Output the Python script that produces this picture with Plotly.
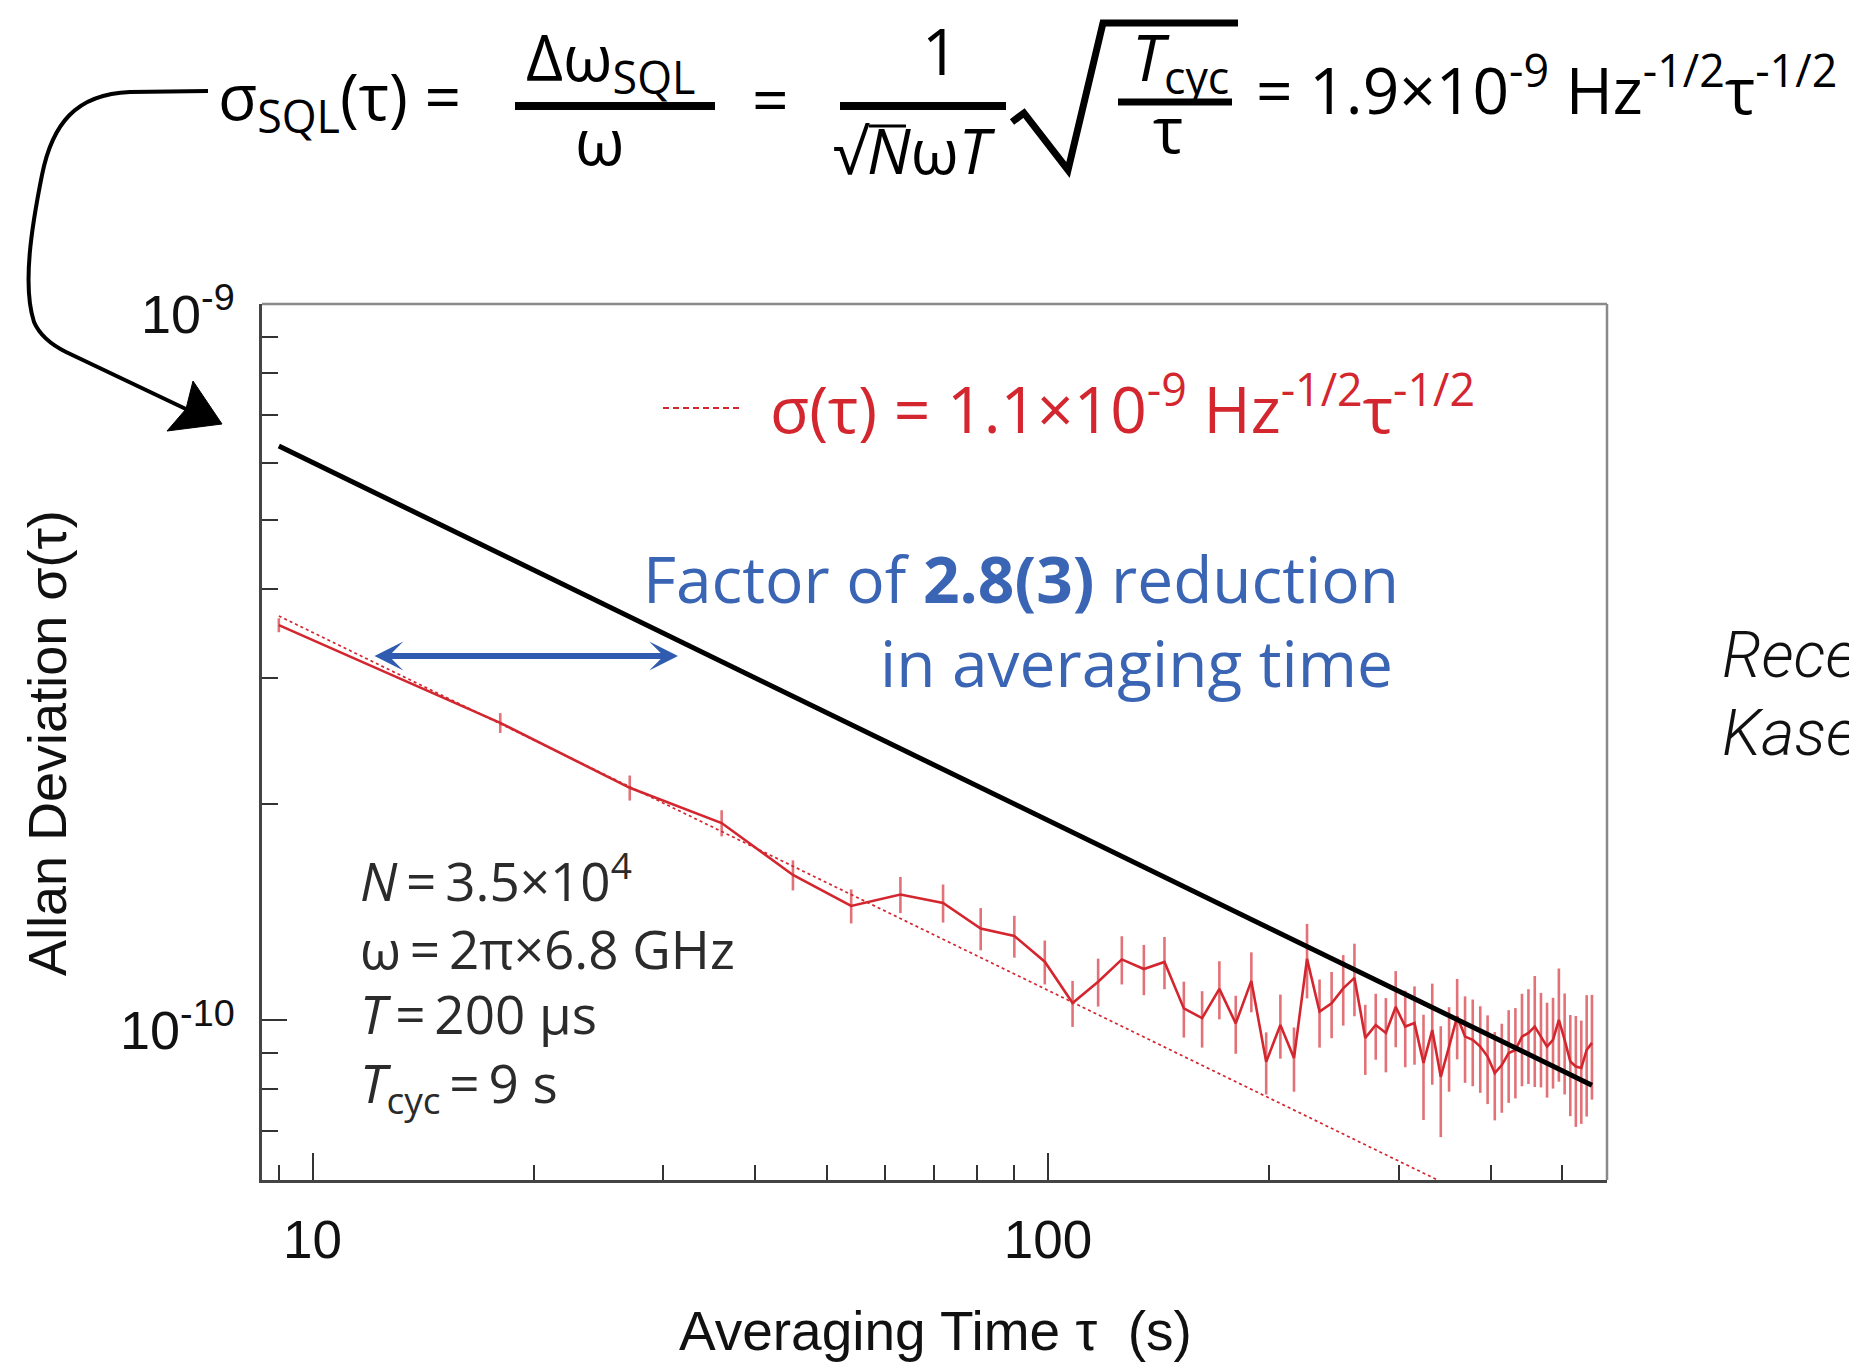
import plotly.graph_objects as go

# ---- data ---------------------------------------------------------------
# averaging times (s), multiples of the 9 s cycle time
tau = [9, 18, 27, 36, 45, 54, 63, 72, 81, 90,
       99, 108, 117, 126, 135, 144, 153, 162, 171, 180,
       189, 198, 207, 216, 225, 234, 243, 252, 261, 270,
       279, 288, 297, 306, 315, 324, 333, 342, 351, 360,
       369, 378, 387, 396, 405, 414, 423, 432, 441, 450,
       459, 468, 477, 486, 495, 504, 513, 522, 531, 540,
       549]

# Allan deviation, in units of 1e-10
adev_e10 = [3.56, 2.60, 2.11, 1.884, 1.594, 1.443, 1.497, 1.457, 1.342, 1.310,
            1.206, 1.056, 1.131, 1.215, 1.178, 1.205, 1.038, 1.006, 1.105, 0.989,
            1.134, 0.874, 0.984, 0.885, 1.217, 1.027, 1.055, 1.107, 1.145, 0.944,
            0.984, 0.959, 1.043, 0.979, 0.990, 0.871, 0.968, 0.833, 0.918, 1.011,
            0.948, 0.938, 0.918, 0.889, 0.843, 0.865, 0.899, 0.908, 0.948, 0.959,
            0.979, 0.948, 0.918, 0.938, 1.000, 0.938, 0.875, 0.861, 0.857, 0.908,
            0.929]

# one-sigma uncertainty of the Allan deviation, in units of 1e-10
adev_err_e10 = [0.080, 0.083, 0.085, 0.079, 0.077, 0.079, 0.087, 0.089, 0.091, 0.088,
                0.085, 0.078, 0.087, 0.094, 0.095, 0.101, 0.093, 0.091, 0.103, 0.092,
                0.109, 0.087, 0.101, 0.091, 0.145, 0.112, 0.112, 0.125, 0.133, 0.106,
                0.104, 0.114, 0.127, 0.120, 0.124, 0.146, 0.156, 0.147, 0.124, 0.130,
                0.131, 0.130, 0.127, 0.126, 0.119, 0.123, 0.133, 0.131, 0.140, 0.145,
                0.173, 0.143, 0.139, 0.136, 0.180, 0.151, 0.141, 0.152, 0.141, 0.175,
                0.155]

# white-noise models  sigma(tau) = coef * tau^-1/2
sql_coef = 1.9e-9        # standard quantum limit
fit_coef = 1.1e-9        # fit to the measured data
sql_tau = [9, 549]
fit_tau = [9, 575]

x_major = [10, 100]
x_major_text = ["10", "100"]
x_minor = [9, 20, 30, 40, 50, 60, 70, 80, 90, 200, 300, 400, 500]
y_major = [1e-10, 1e-9]
y_major_text = ["10<sup>-10</sup>", "10<sup>-9</sup>"]
y_minor = [7e-11, 8e-11, 9e-11, 2e-10, 3e-10, 4e-10, 5e-10, 6e-10, 7e-10, 8e-10, 9e-10]

# ---- page geometry (pixels) -------------------------------------------
W, H = 1849, 1365
L, R, T, B = 262, 1607, 304, 1180


def PX(x):
    return (x - L) / (R - L)


def PY(y):
    return (B - y) / (B - T)


EQ_FONT = "Open Sans"
AX_FONT = "Liberation Sans"
RED = "#d3262f"
BLUE = "#3a64b4"
THIN = "\u2009"

adev = [v * 1e-10 for v in adev_e10]
adev_err = [v * 1e-10 for v in adev_err_e10]

fig = go.Figure()

# fitted white-noise line (dotted)
fig.add_trace(go.Scatter(
    x=fit_tau, y=[fit_coef / t ** 0.5 for t in fit_tau],
    mode="lines", line=dict(color=RED, width=1.7, dash="dot"),
    hoverinfo="skip", showlegend=False))

# measured Allan deviation
fig.add_trace(go.Scatter(
    x=tau, y=adev, mode="lines",
    line=dict(color=RED, width=2.6),
    error_y=dict(type="data", array=adev_err, symmetric=True,
                 width=0, thickness=2.6, color="rgba(211,38,47,0.65)"),
    showlegend=False))

# standard quantum limit
fig.add_trace(go.Scatter(
    x=sql_tau, y=[sql_coef / t ** 0.5 for t in sql_tau],
    mode="lines", line=dict(color="black", width=5),
    hoverinfo="skip", showlegend=False))


def txt(s, x, y, size, color="black", family=EQ_FONT, xanchor="center",
        yanchor="middle", weight=None, style=None, **kw):
    font = dict(size=size, color=color, family=family)
    if weight is not None:
        font["weight"] = weight
    if style is not None:
        font["style"] = style
    return dict(text=s, x=PX(x), y=PY(y), xref="paper", yref="paper",
                showarrow=False, xanchor=xanchor, yanchor=yanchor,
                font=font, **kw)


EQ = 64
PAR = "#2b2b2b"
ann = [
    # equation for the standard quantum limit
    txt("σ<sub>SQL</sub>(τ) =", 216, 99, EQ, xanchor="left"),
    txt("Δω<sub>SQL</sub>", 610, 60, EQ),
    txt("ω", 600, 140, EQ),
    txt("=", 770, 98, EQ),
    txt("1", 940, 50, EQ),
    txt("√<i>N</i>ω<i>T</i>", 914, 150, 62),
    txt("<i>T</i><sub>cyc</sub>", 1180, 60, EQ),
    txt("τ", 1168, 128, EQ),
    txt("= 1.9×10<sup>-9</sup> Hz<sup>-1/2</sup>τ<sup>-1/2</sup>", 1254, 86, EQ,
        xanchor="left"),
    # fit label
    txt("σ(τ) = 1.1×10<sup>-9</sup> Hz<sup>-1/2</sup>τ<sup>-1/2</sup>", 768, 405, 64,
        color=RED, xanchor="left"),
    # improvement note
    txt("Factor of <b>2.8(3)</b> reduction", 1401, 578, 64, color=BLUE,
        xanchor="right"),
    txt("in averaging time", 1395, 662, 64, color=BLUE, xanchor="right"),
    # experimental parameters
    txt(f"<i>N</i>{THIN}={THIN}3.5×10<sup>4</sup>", 358, 878, 53, color=PAR,
        xanchor="left"),
    txt(f"ω{THIN}={THIN}2π×6.8 GHz", 358, 948, 53, color=PAR, xanchor="left"),
    txt(f"<i>T</i>{THIN}={THIN}200 μs", 358, 1013, 53, color=PAR, xanchor="left"),
    txt(f"<i>T</i><sub>cyc</sub>{THIN}={THIN}9 s", 358, 1085, 53, color=PAR,
        xanchor="left"),
    # y tick labels
    txt(y_major_text[1], 237, 346, 54, color="#111", family=AX_FONT,
        xanchor="right", yanchor="bottom"),
    txt(y_major_text[0], 237, 1062, 54, color="#111", family=AX_FONT,
        xanchor="right", yanchor="bottom"),
    # axis titles
    txt("Averaging Time τ  (s)", 935, 1331, 55, color="#111", family=AX_FONT),
    txt("Allan Deviation σ(τ)", 47, 743, 54, color="#111", family=AX_FONT,
        textangle=-90),
    # side note
    txt("Recent", 1720, 655, 64, color="#111", family="Roboto", xanchor="left",
        weight=300, style="italic"),
    txt("Kasevich", 1720, 733, 64, color="#111", family="Roboto", xanchor="left",
        weight=300, style="italic"),
]

# double-headed arrow spanning the averaging-time reduction
ann.append(dict(x=PX(678), y=PY(656), xref="paper", yref="paper", text="",
                showarrow=True, ax=373 - 678, ay=0, axref="pixel", ayref="pixel",
                arrowside="end+start", arrowhead=3, startarrowhead=3,
                arrowsize=0.8, startarrowsize=0.8, arrowwidth=6,
                arrowcolor="#2f5cb0"))


def line(x0, y0, x1, y1, color, width, dash="solid"):
    return dict(type="line", xref="paper", yref="paper",
                x0=PX(x0), y0=PY(y0), x1=PX(x1), y1=PY(y1),
                line=dict(color=color, width=width, dash=dash))


def path(pts, close=False):
    cmds = []
    for p in pts:
        if isinstance(p, str):
            cmds.append(p)
        else:
            cmds.append(f"{PX(p[0]):.5f},{PY(p[1]):.5f}")
    s = " ".join(cmds)
    return s + (" Z" if close else "")


shapes = [
    # frame (top and right)
    line(L, T, R, T, "#8a8a8a", 2.5),
    line(R, T, R, B, "#8a8a8a", 2.5),
    # fraction bars and radical of the equation
    line(515, 106, 715, 106, "black", 8),
    line(840, 106, 1006, 106, "black", 8),
    line(1118, 102, 1232, 102, "black", 7),
    line(869, 126, 906, 126, "black", 3),
    dict(type="path", xref="paper", yref="paper",
         path=path(["M", (1012, 122), "L", (1024, 113), "L", (1068, 170), "L",
                    (1103, 23), "L", (1238, 23)]),
         line=dict(color="black", width=7)),
    # curved pointer from the equation to the SQL line
    dict(type="path", xref="paper", yref="paper",
         path=path(["M", (208, 91), "L", (130, 92), "C", (75, 94), (52, 125), (42, 175),
                    "C", (32, 225), (22, 285), (34, 322), "C", (40, 336), (52, 345),
                    (66, 352), "L", (188, 410)]),
         line=dict(color="black", width=4)),
    dict(type="path", xref="paper", yref="paper",
         path=path(["M", (222, 424), "L", (193, 381), "L", (186, 409), "L", (167, 431)],
                   close=True),
         fillcolor="black", line=dict(color="black", width=1)),
    # dashed legend sample for the fit
    line(663, 408, 743, 408, RED, 1.8, "6px,4px"),
]

fig.update_layout(
    width=W, height=H,
    margin=dict(l=L, r=W - R, t=T, b=H - B, pad=0),
    paper_bgcolor="white", plot_bgcolor="white",
    showlegend=False,
    annotations=ann, shapes=shapes,
    xaxis=dict(type="log", range=[0.93134, 2.76003],
               tickmode="array", tickvals=x_major, ticktext=x_major_text,
               ticks="inside", ticklen=27, tickwidth=2, tickcolor="#333",
               showline=True, linecolor="#444", linewidth=2.5,
               showgrid=False, zeroline=False, ticklabelstandoff=12,
               tickfont=dict(family=AX_FONT, size=53, color="#111"),
               minor=dict(tickmode="array", tickvals=x_minor, ticks="inside",
                          ticklen=15, tickwidth=2, tickcolor="#333", showgrid=False)),
    yaxis=dict(type="log", range=[-10.2235, -9],
               tickmode="array", tickvals=y_major, ticktext=y_major_text,
               showticklabels=False,
               ticks="inside", ticklen=25, tickwidth=2, tickcolor="#333",
               showline=True, linecolor="#444", linewidth=2.5,
               showgrid=False, zeroline=False,
               minor=dict(tickmode="array", tickvals=y_minor, ticks="inside",
                          ticklen=16, tickwidth=2, tickcolor="#333", showgrid=False)),
)

fig.write_html("out.html")
